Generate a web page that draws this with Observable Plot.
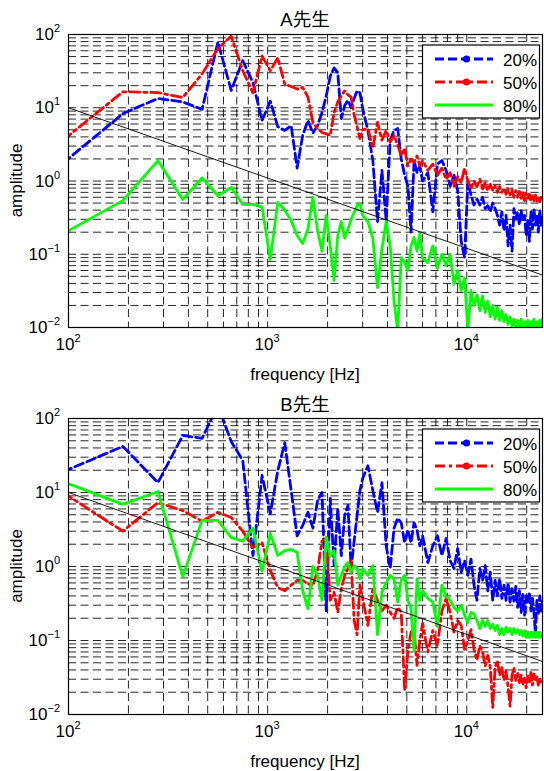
<!DOCTYPE html>
<html><head><meta charset="utf-8">
<script src="https://cdn.jsdelivr.net/npm/d3@7"></script>
<script src="https://cdn.jsdelivr.net/npm/@observablehq/plot@0.6"></script>
<style>body{margin:0;background:#fff} svg{display:block}</style>
</head><body><div id="chart"></div>
<script>
// frequency bins [Hz]
const freq = [93.75,187.5,281.25,375,468.75,562.5,656.25,750,843.75,937.5,1031.25,1125,1218.75,1312.5,1406.25,1500,1593.75,1687.5,1781.25,1875,1968.75,2062.5,2156.25,2250,2343.75,2437.5,2531.25,2625,2718.75,2812.5,2906.25,3000,
3187.5,3375,3562.5,3750,3937.5,4125,4312.5,4500,4687.5,4875,5062.5,5250,5437.5,5625,5812.5,6000,
6375,6750,7125,7500,7875,8250,8625,9000,9375,9750,10125,10500,10875,11250,11625,12000,12375,12750,13125,13500,13875,14250,14625,15000,15375,15750,16125,16500,16875,17250,17625,18000,18375,18750,19125,19500,19875,20250,20625,21000,21375,21750,22125,22500,22875,23250,23625,24000];

// Panel A (A先生)
const a20 = [1.75,8.3,13.4,12,9.5,79,17.2,44,22,6.7,12.3,5.5,4.9,5.7,1.5,
4.2,6.7,4.5,5.7,8.6,14.5,27,35,30,7.1,10.7,12.6,10,13.4,17,16,9.8,
4.9,1.9,0.28,1.4,0.29,3.6,4.9,5.2,2.0,1.2,0.85,0.2,1.9,1.3,1.6,1.0,
1.3,0.38,1.7,1.9,1.4,0.85,1.2,0.74,0.15,0.09,1.0,0.64,0.47,0.57,0.47,0.6,0.42,0.46,0.38,0.5,0.42,0.34,0.25,0.38,0.21,0.34,0.13,0.25,0.11,0.42,0.3,0.38,0.25,0.4,0.28,0.34,0.18,0.29,0.15,0.38,0.22,0.42,0.25,0.34,0.2,0.4,0.25,0.34];
const a50 = [3.6,16.5,16.1,13.8,29,64,95,32,16,51,32,48,21,19.5,18,
19,14,6.3,5.2,4.6,4.4,4.2,8.5,12,14.5,17,15,14,8,5.5,3.8,5.0,
5.2,2.8,6.3,3.6,4.9,3.4,4.2,3.1,2.2,2.8,1.6,2.0,1.8,2.2,1.6,1.9,
1.4,1.7,1.2,1.5,1.06,1.3,0.84,1.15,0.95,1.5,1.0,0.78,1.0,0.84,1.06,0.78,0.95,0.74,0.9,0.74,0.86,0.7,0.84,0.7,0.8,0.66,0.78,0.65,0.76,0.6,0.74,0.6,0.72,0.58,0.7,0.54,0.68,0.58,0.66,0.53,0.64,0.54,0.64,0.53,0.62,0.52,0.6,0.55];
const a80 = [0.19,0.54,1.9,0.56,1.1,0.63,0.82,0.48,0.48,0.44,0.085,0.51,0.4,0.29,0.18,
0.14,0.22,0.6,0.21,0.11,0.34,0.13,0.044,0.18,0.28,0.165,0.22,0.3,0.37,0.46,0.49,0.34,
0.28,0.165,0.035,0.12,0.28,0.13,0.023,0.009,0.09,0.077,0.06,0.13,0.17,0.11,0.19,0.088,
0.077,0.13,0.064,0.1,0.07,0.1,0.039,0.06,0.032,0.047,0.009,0.032,0.02,0.028,0.017,0.027,0.016,0.023,0.014,0.02,0.013,0.019,0.0125,0.017,0.012,0.015,0.011,0.014,0.0106,0.013,0.009,0.0125,0.0103,0.013,0.0086,0.012,0.0097,0.0125,0.0084,0.012,0.0097,0.013,0.009,0.012,0.008,0.0125,0.0103,0.013];

// Panel B (B先生)
const b20 = [19,42,13.6,59,54,150,49,27,1.4,17,5.2,19.8,47,10.6,2.6,
3.6,5.4,3.3,7.8,10,0.25,8.3,1.03,6.1,1.4,4.9,6.7,0.94,2.2,4.9,10.6,15.5,
23,10.6,5.4,13.6,1.9,0.94,3.3,4.5,3.9,2.1,3.1,2.1,3.9,3.1,1.9,2.6,
1.13,1.9,2.6,1.4,2.4,1.2,0.94,1.75,0.84,1.2,0.76,1.26,0.56,0.35,0.94,0.65,1.03,0.47,0.84,0.35,0.65,0.4,0.68,0.37,0.56,0.35,0.6,0.33,0.5,0.34,0.54,0.28,0.47,0.24,0.42,0.22,0.4,0.33,0.45,0.25,0.37,0.24,0.12,0.35,0.22,0.4,0.25,0.34];
const b50 = [10,3.0,7.3,5.7,4.1,5.4,4.6,3.0,1.8,2.1,0.88,0.52,0.47,0.56,0.65,
0.65,0.58,0.55,0.88,2.2,2.4,0.35,0.45,0.24,0.5,0.76,0.94,1.2,0.186,0.12,0.56,0.37,
0.16,0.5,0.35,0.25,0.3,0.24,0.2,0.28,0.24,0.021,0.073,0.13,0.14,0.046,0.1,0.17,
0.07,0.136,0.085,0.25,0.37,0.24,0.13,0.186,0.16,0.076,0.1,0.14,0.076,0.054,0.085,0.07,0.045,0.063,0.043,0.0125,0.043,0.054,0.034,0.043,0.029,0.039,0.023,0.013,0.034,0.043,0.029,0.037,0.027,0.034,0.025,0.031,0.023,0.033,0.027,0.037,0.025,0.035,0.028,0.033,0.025,0.031,0.027,0.029];
const b80 = [14,6.9,10.3,0.73,4.2,4.2,2.45,2.2,3.3,0.86,2.8,1.41,1.64,1.7,1.55,
0.47,0.27,1.0,0.76,0.35,2.5,1.37,1.64,0.56,0.76,1.0,1.13,0.83,1.03,0.94,0.68,0.94,
0.76,1.03,0.12,0.45,0.6,0.76,0.68,0.33,0.65,0.76,0.35,0.27,0.073,0.68,0.35,0.47,
0.37,0.33,0.155,0.56,0.4,0.35,0.28,0.25,0.3,0.22,0.175,0.24,0.23,0.186,0.145,0.186,0.155,0.186,0.145,0.165,0.136,0.16,0.12,0.145,0.12,0.15,0.13,0.145,0.12,0.145,0.125,0.14,0.12,0.136,0.115,0.136,0.11,0.13,0.11,0.13,0.11,0.13,0.11,0.13,0.11,0.13,0.11,0.125];

// black reference line
const refFreq = [100, 24000];
const refAmp = [10, 0.052];

const seriesNames = ["20%", "50%", "80%"];
const titles = ["A先生", "B先生"];
const xLabel = "frequency [Hz]";
const yLabel = "amplitude";
const xTicks = [100, 1000, 10000];
const xTickExp = ["2", "3", "4"];
const yTicks = [100, 10, 1, 0.1, 0.01];
const yTickExp = ["2", "1", "0", "\u22121", "\u22122"];
const xGrid = [100,200,300,400,500,600,700,800,900,1000,2000,3000,4000,5000,6000,7000,8000,9000,10000,20000];
const yGrid = [0.01,0.02,0.03,0.04,0.05,0.06,0.07,0.08,0.09,0.1,0.2,0.3,0.4,0.5,0.6,0.7,0.8,0.9,1,2,3,4,5,6,7,8,9,10,20,30,40,50,60,70,80,90,100];

const styles = [
  {stroke: "#0000ff", dash: "9,4", marker: true},
  {stroke: "#ff0000", dash: "10,4,3,4", marker: true},
  {stroke: "#00ff00", dash: null, marker: false}
];
const FONT = '"Liberation Sans", Arial, "Noto Sans CJK JP", sans-serif';

function panel(title, series, height, mTop, mBottom) {
  const mLeft = 68, mRight = 2, W = 544;
  const marks = [
    Plot.gridX(xGrid, {stroke: "#000", strokeOpacity: 0.95, strokeWidth: 0.9, strokeDasharray: "8,4.5"}),
    Plot.gridY(yGrid, {stroke: "#000", strokeOpacity: 0.95, strokeWidth: 0.9, strokeDasharray: "8,4.5"})
  ];
  series.forEach((vals, si) => {
    const st = styles[si];
    marks.push(Plot.line(freq.map((f, i) => ({f, a: vals[i]})), {
      x: "f", y: "a", stroke: st.stroke, strokeWidth: 2.8,
      strokeDasharray: st.dash || undefined, clip: true
    }));
  });
  marks.push(Plot.line(refFreq.map((f, i) => ({f, a: refAmp[i]})), {x: "f", y: "a", stroke: "#000", strokeWidth: 0.9, clip: true}));
  marks.push(Plot.frame({stroke: "#000", strokeWidth: 1.2}));

  const p = Plot.plot({
    width: W, height,
    marginLeft: mLeft, marginRight: mRight, marginTop: mTop, marginBottom: mBottom,
    style: {background: "#fff", fontFamily: FONT},
    x: {type: "log", domain: [100, 24000], axis: null},
    y: {type: "log", domain: [0.01, 100], axis: null},
    marks
  });
  const sx = p.scale("x"), sy = p.scale("y");
  const fx = sx.apply ? v => sx.apply(v) : d3.scaleLog(sx.domain, sx.range);
  const fy = sy.apply ? v => sy.apply(v) : d3.scaleLog(sy.domain, sy.range);
  const svg = d3.select(p);
  const top = mTop, bottom = height - mBottom, cx = (mLeft + W - mRight) / 2;
  const g = svg.append("g").attr("font-family", FONT).attr("fill", "#000");

  // x tick labels
  xTicks.forEach((v, i) => {
    const t = g.append("text").attr("x", fx(v)).attr("y", bottom + 23).attr("text-anchor", "middle").attr("font-size", 17).text("10");
    t.append("tspan").attr("font-size", 11).attr("dy", -8).text(xTickExp[i]);
  });
  // y tick labels
  yTicks.forEach((v, i) => {
    const t = g.append("text").attr("x", mLeft - 8).attr("y", fy(v) + 6).attr("text-anchor", "end").attr("font-size", 17).text("10");
    t.append("tspan").attr("font-size", 11).attr("dy", -8).text(yTickExp[i]);
  });
  // title, axis labels
  g.append("text").attr("x", cx).attr("y", 26).attr("text-anchor", "middle").attr("font-size", 18.5).text(title);
  g.append("text").attr("x", cx).attr("y", bottom + 53).attr("text-anchor", "middle").attr("font-size", 17).text(xLabel);
  g.append("text").attr("transform", `translate(22,${(top + bottom) / 2}) rotate(-90)`).attr("text-anchor", "middle").attr("font-size", 17).text(yLabel);

  // legend
  const lx = 422.5, ly = top + 11;
  const lg = svg.append("g");
  lg.append("rect").attr("x", lx).attr("y", ly).attr("width", 117).attr("height", 73).attr("fill", "#fff").attr("stroke", "#000").attr("stroke-width", 1.2);
  seriesNames.forEach((name, i) => {
    const st = styles[i];
    const yy = ly + 14 + i * 23;
    const ln = lg.append("line").attr("x1", 435).attr("x2", 493).attr("y1", yy).attr("y2", yy).attr("stroke", st.stroke).attr("stroke-width", 2.8);
    if (st.dash) ln.attr("stroke-dasharray", st.dash);
    if (st.marker) lg.append("circle").attr("cx", 466.5).attr("cy", yy).attr("r", 3.6).attr("fill", st.stroke);
    lg.append("text").attr("x", 503).attr("y", yy + 6.5).attr("text-anchor", "start").attr("font-family", FONT).attr("font-size", 17).attr("fill", "#000").text(name);
  });
  return p;
}

const root = document.getElementById("chart");
root.appendChild(panel(titles[0], [a20, a50, a80], 385, 34, 58));
root.appendChild(panel(titles[1], [b20, b50, b80], 386, 33, 57));
</script>
</body></html>
